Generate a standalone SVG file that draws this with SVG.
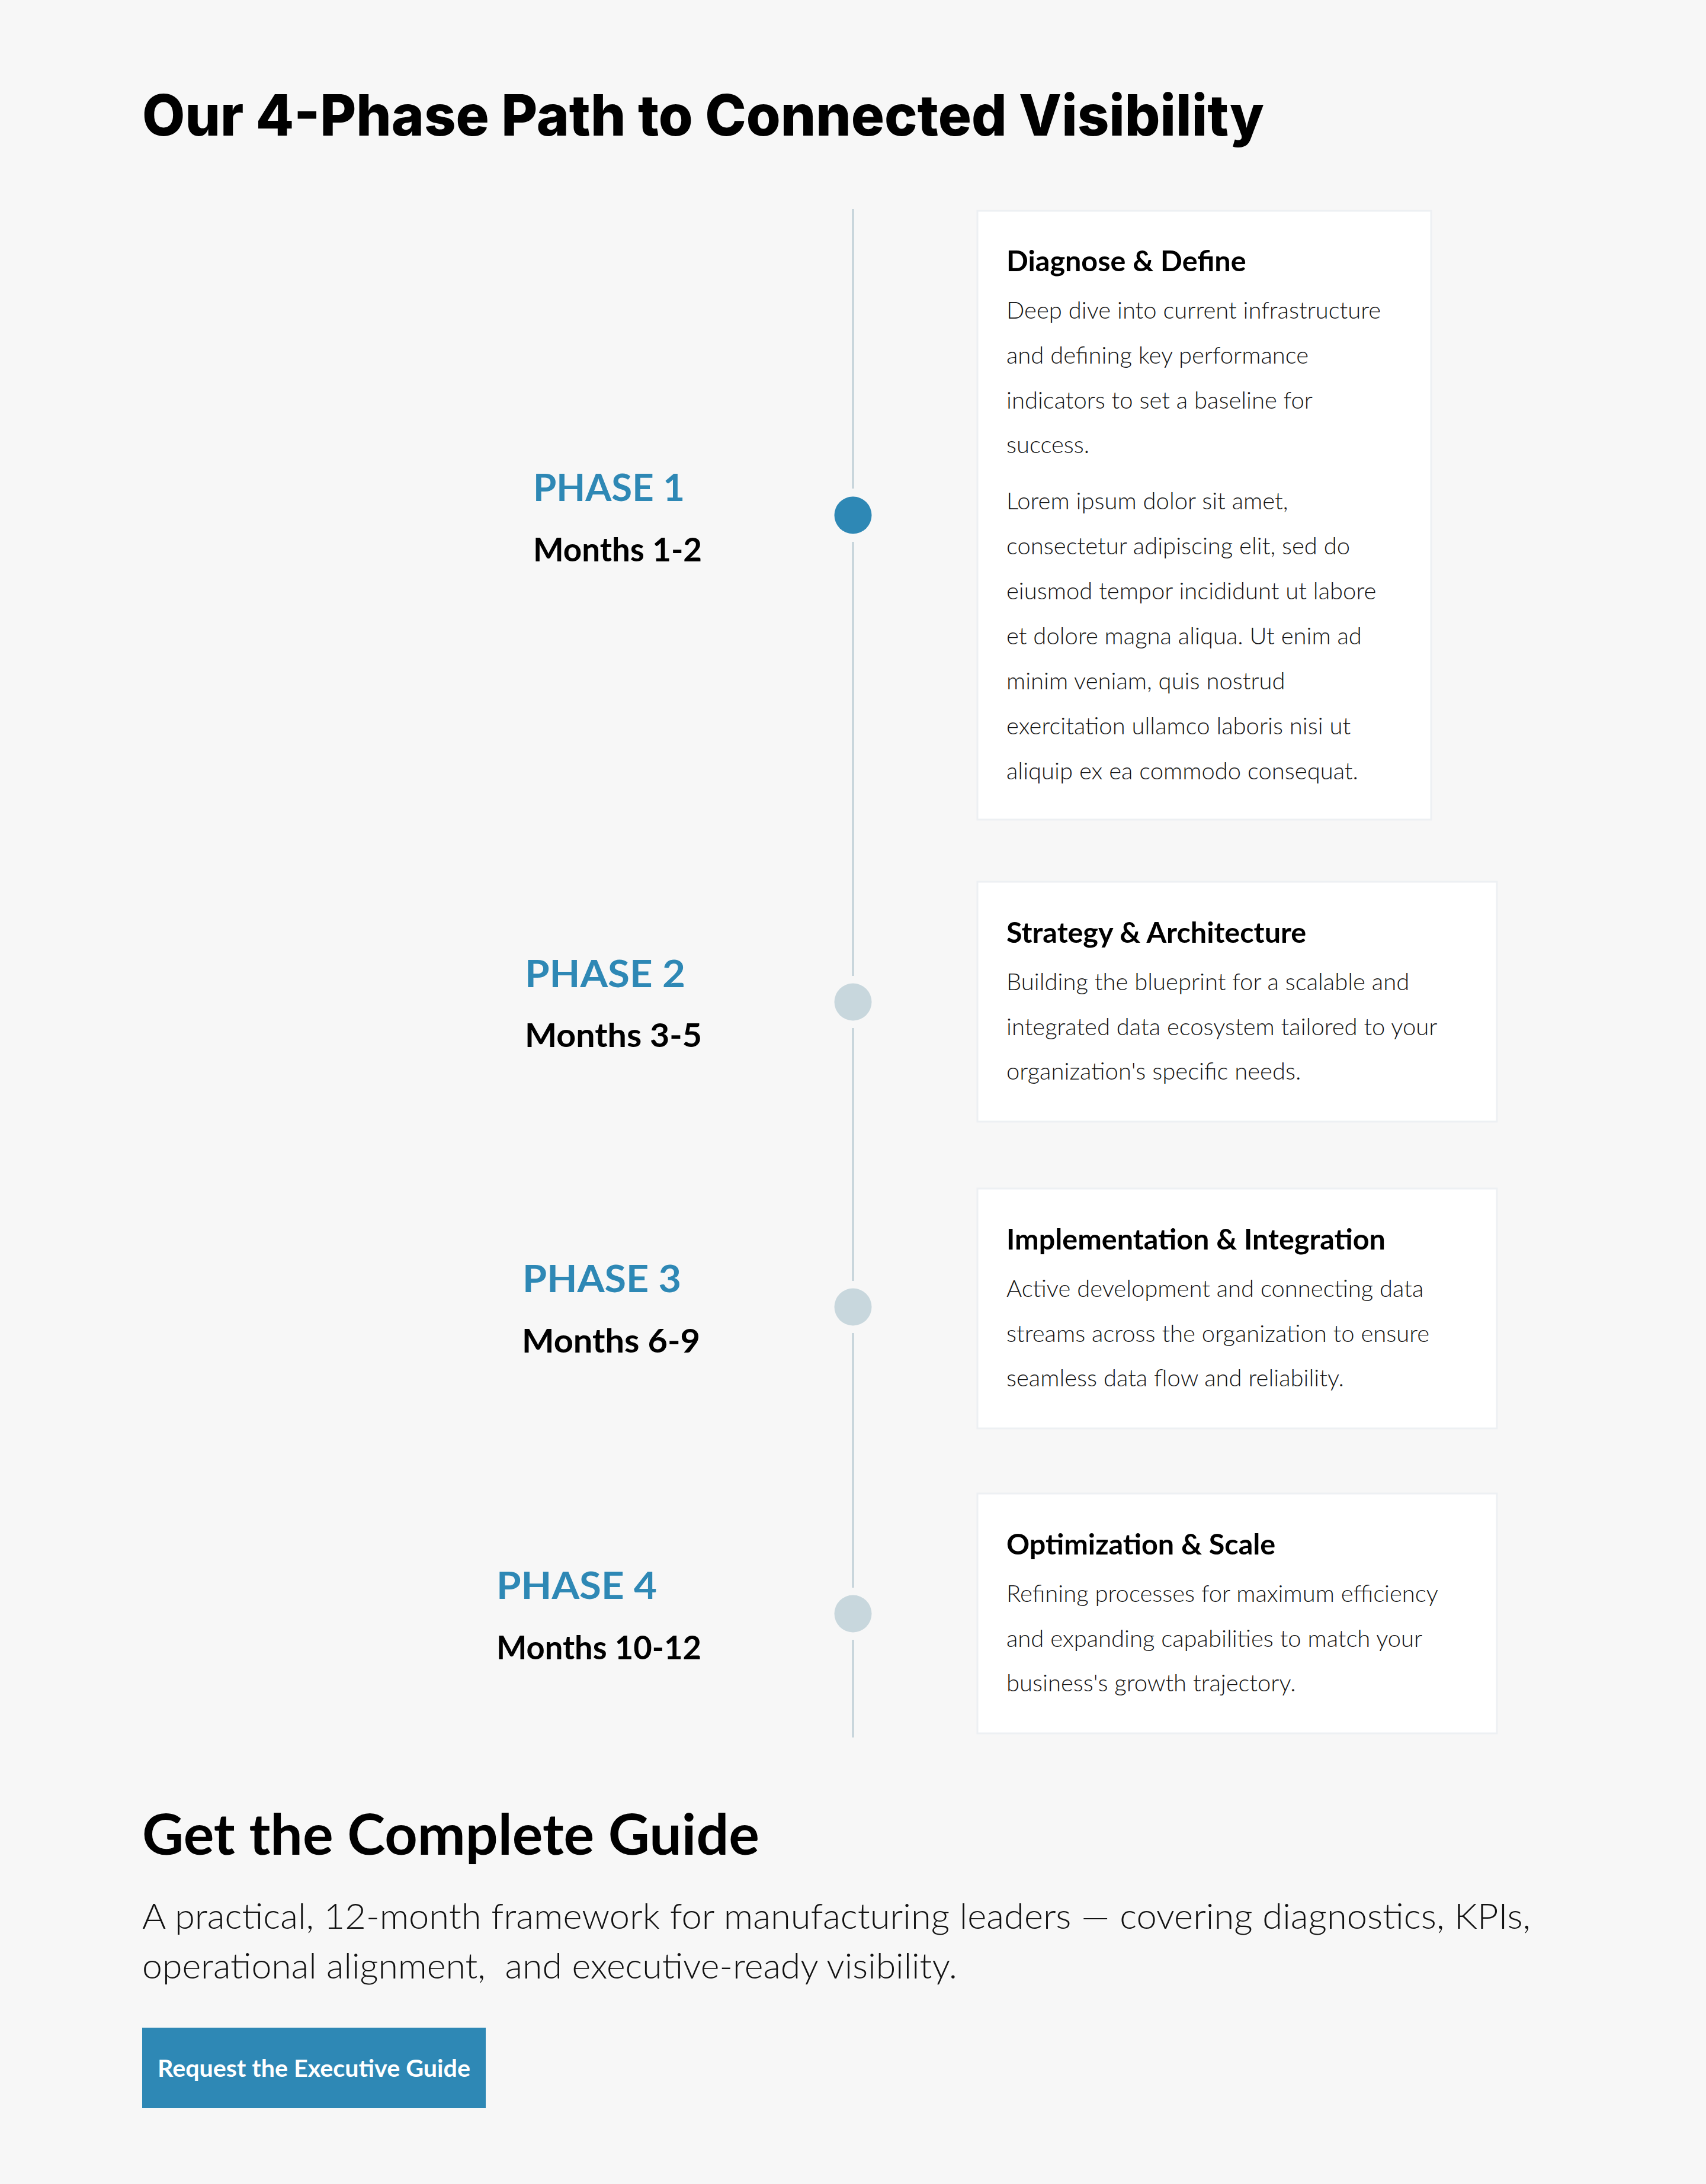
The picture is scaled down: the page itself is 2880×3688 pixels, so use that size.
<svg xmlns="http://www.w3.org/2000/svg" width="2880" height="3688" viewBox="0 0 2880 3688">
<style>
.h1{font-family:Inter,"Liberation Sans",sans-serif;font-weight:800;font-size:96px;fill:#000}
.ph{font-family:Lato,"Liberation Sans",sans-serif;font-weight:700;font-size:64px;fill:#2e88b5}
.mo{font-family:Lato,"Liberation Sans",sans-serif;font-weight:700;font-size:56px;fill:#000}
.ct{font-family:Lato,"Liberation Sans",sans-serif;font-weight:700;font-size:48.5px;fill:#000}
.cb{font-family:Lato,"Liberation Sans",sans-serif;font-weight:300;font-size:40px;fill:#141414}
.card{fill:#fff;stroke:#edf0f3;stroke-width:3}
.h2{font-family:Lato,"Liberation Sans",sans-serif;font-weight:700;font-size:96px;fill:#000}
.p{font-family:Lato,"Liberation Sans",sans-serif;font-weight:300;font-size:60px;fill:#111;white-space:pre}
.btn{font-family:Lato,"Liberation Sans",sans-serif;font-weight:700;font-size:41px;fill:#fff}
.line{stroke:#c9d6dc;stroke-width:4}
</style>
<rect width="2880" height="3688" fill="#f7f7f7"/>
<text class="h1" x="240" y="229" textLength="1894" lengthAdjust="spacingAndGlyphs">Our 4-Phase Path to Connected Visibility</text>

<g id="connectors">
<line class="line" x1="1440" y1="353" x2="1440" y2="825"/>
<line class="line" x1="1440" y1="915" x2="1440" y2="1648"/>
<line class="line" x1="1440" y1="1736" x2="1440" y2="2163"/>
<line class="line" x1="1440" y1="2251" x2="1440" y2="2681"/>
<line class="line" x1="1440" y1="2769" x2="1440" y2="2934"/>
</g>

<g id="phase1">
<circle cx="1440" cy="870" r="31.5" fill="#2e88b5"/>
<text class="ph" x="900" y="846" textLength="256" lengthAdjust="spacingAndGlyphs">PHASE 1</text>
<text class="mo" x="900" y="948" textLength="285" lengthAdjust="spacingAndGlyphs">Months 1-2</text>
<rect class="card" x="1650" y="356" width="766" height="1028"/>
<text class="ct" x="1699" y="458">Diagnose &amp; Define</text>
<text class="cb" x="1699" y="538">Deep dive into current infrastructure</text>
<text class="cb" x="1699" y="614">and defining key performance</text>
<text class="cb" x="1699" y="690">indicators to set a baseline for</text>
<text class="cb" x="1699" y="765">success.</text>
<text class="cb" x="1699" y="860">Lorem ipsum dolor sit amet,</text>
<text class="cb" x="1699" y="936">consectetur adipiscing elit, sed do</text>
<text class="cb" x="1699" y="1012">eiusmod tempor incididunt ut labore</text>
<text class="cb" x="1699" y="1088">et dolore magna aliqua. Ut enim ad</text>
<text class="cb" x="1699" y="1164">minim veniam, quis nostrud</text>
<text class="cb" x="1699" y="1240">exercitation ullamco laboris nisi ut</text>
<text class="cb" x="1699" y="1316">aliquip ex ea commodo consequat.</text>
</g>

<g id="phase2">
<circle cx="1440" cy="1692" r="31.5" fill="#c8d7dd"/>
<text class="ph" x="886" y="1667" textLength="271" lengthAdjust="spacingAndGlyphs">PHASE 2</text>
<text class="mo" x="886" y="1768" textLength="299" lengthAdjust="spacingAndGlyphs">Months 3-5</text>
<rect class="card" x="1650" y="1489" width="877" height="405"/>
<text class="ct" x="1699" y="1592">Strategy &amp; Architecture</text>
<text class="cb" x="1699" y="1672">Building the blueprint for a scalable and</text>
<text class="cb" x="1699" y="1748">integrated data ecosystem tailored to your</text>
<text class="cb" x="1699" y="1823">organization's specific needs.</text>
</g>

<g id="phase3">
<circle cx="1440" cy="2207" r="31.5" fill="#c8d7dd"/>
<text class="ph" x="882" y="2182" textLength="268" lengthAdjust="spacingAndGlyphs">PHASE 3</text>
<text class="mo" x="881" y="2284" textLength="301" lengthAdjust="spacingAndGlyphs">Months 6-9</text>
<rect class="card" x="1650" y="2007" width="877" height="405"/>
<text class="ct" x="1699" y="2110">Implementation &amp; Integration</text>
<text class="cb" x="1699" y="2190">Active development and connecting data</text>
<text class="cb" x="1699" y="2266">streams across the organization to ensure</text>
<text class="cb" x="1699" y="2341">seamless data flow and reliability.</text>
</g>

<g id="phase4">
<circle cx="1440" cy="2725" r="31.5" fill="#c8d7dd"/>
<text class="ph" x="838" y="2700" textLength="271" lengthAdjust="spacingAndGlyphs">PHASE 4</text>
<text class="mo" x="838" y="2802" textLength="346" lengthAdjust="spacingAndGlyphs">Months 10-12</text>
<rect class="card" x="1650" y="2522" width="877" height="405"/>
<text class="ct" x="1699" y="2625">Optimization &amp; Scale</text>
<text class="cb" x="1699" y="2705">Refining processes for maximum efficiency</text>
<text class="cb" x="1699" y="2781">and expanding capabilities to match your</text>
<text class="cb" x="1699" y="2856">business's growth trajectory.</text>
</g>

<g id="cta">
<text class="h2" x="240" y="3132" textLength="1042" lengthAdjust="spacingAndGlyphs">Get the Complete Guide</text>
<text class="p" x="240" y="3257" textLength="2344" lengthAdjust="spacingAndGlyphs">A practical, 12-month framework for manufacturing leaders — covering diagnostics, KPIs,</text>
<text class="p" x="240" y="3341" xml:space="preserve" textLength="1376" lengthAdjust="spacingAndGlyphs">operational alignment,  and executive-ready visibility.</text>
<rect x="240" y="3424" width="580" height="136" fill="#2e88b5"/>
<text class="btn" x="266" y="3507" textLength="528" lengthAdjust="spacingAndGlyphs">Request the Executive Guide</text>
</g>
</svg>
